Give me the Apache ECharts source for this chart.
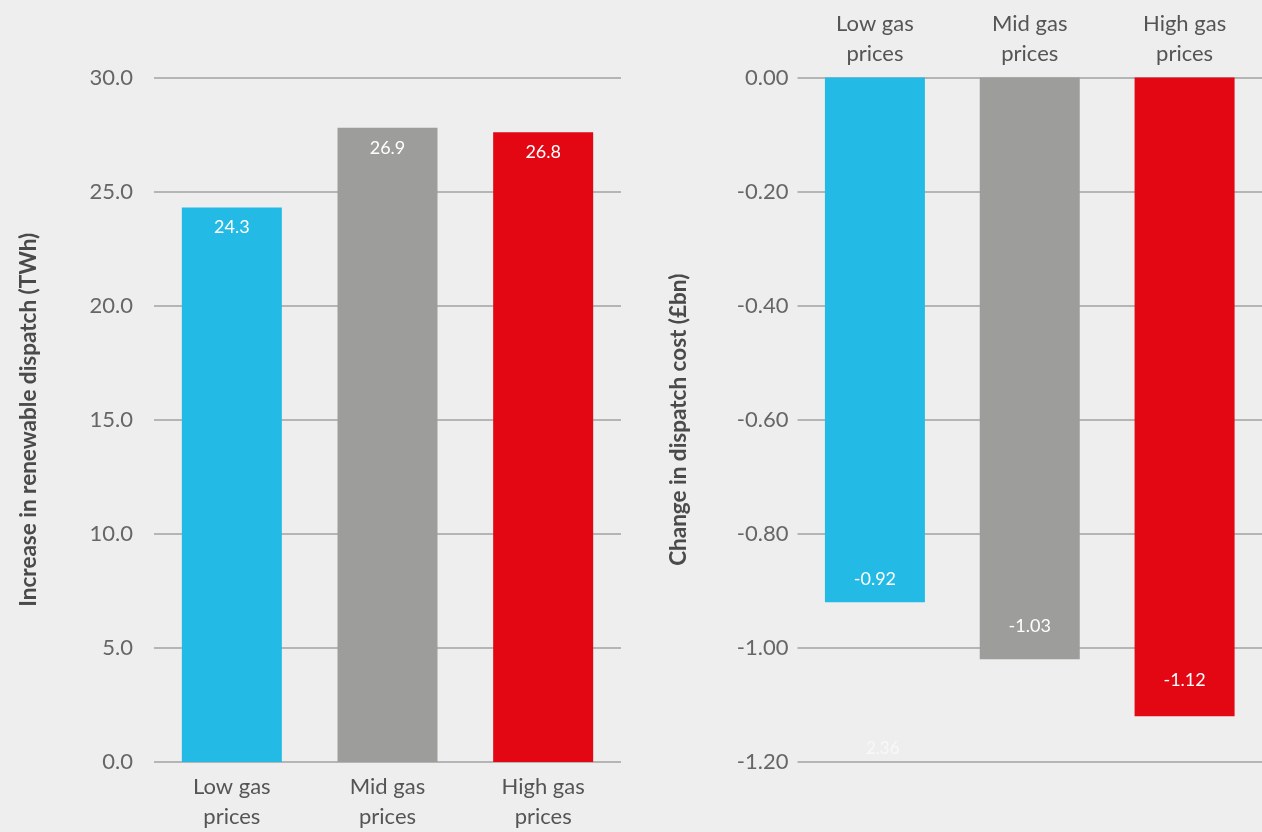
<!DOCTYPE html>
<html>
<head>
<meta charset="utf-8">
<script src="https://cdn.jsdelivr.net/npm/echarts@6/dist/echarts.min.js"></script>
<style>
html,body{margin:0;padding:0;background:#eeeeee;}
#c{width:1262px;height:832px;}
</style>
</head>
<body>
<div id="c"></div>
<script>
// ---- data ----
const categories = ['Low gas\nprices', 'Mid gas\nprices', 'High gas\nprices'];
const renewableValues = [24.3, 27.8, 27.6];          // bar heights as drawn
const renewableLabels = ['24.3', '26.9', '26.8'];    // printed labels
const costValues = [-0.92, -1.02, -1.12];
const costLabels = ['-0.92', '-1.03', '-1.12'];
const leftTicks = { min: 0, max: 30, interval: 5 };
const rightTicks = { min: -1.2, max: 0, interval: 0.2 };
const strayLabel = '2.36';

// ---- style ----
const barColors = ['#23bbe5', '#9d9d9b', '#e30613'];
const rightLabelDist = [14, 24, 27];
const FONT = 'Lato';

const chart = echarts.init(document.getElementById('c'), null, {renderer: 'canvas'});

const gridLine = {show: true, lineStyle: {color: '#b5b5b5', width: 2}};

const option = {
  backgroundColor: '#eeeeee',
  animation: false,
  textStyle: {fontFamily: FONT},
  grid: [
    {left: 154, right: 641, top: 77.5, bottom: 70},
    {left: 797.5, right: -1.5, top: 77.5, bottom: 70}
  ],
  xAxis: [
    {
      gridIndex: 0, type: 'category', data: categories, position: 'bottom',
      axisLine: {show: false}, axisTick: {show: false},
      axisLabel: {color: '#555', fontSize: 22, lineHeight: 30, margin: 10, fontFamily: FONT}
    },
    {
      gridIndex: 1, type: 'category', data: categories, position: 'top',
      axisLine: {show: false}, axisTick: {show: false},
      axisLabel: {color: '#555', fontSize: 22, lineHeight: 30, margin: 9, fontFamily: FONT}
    }
  ],
  yAxis: [
    {
      gridIndex: 0, type: 'value', min: leftTicks.min, max: leftTicks.max, interval: leftTicks.interval,
      axisLine: {show: false}, axisTick: {show: false},
      splitLine: gridLine,
      axisLabel: {color: '#666', fontSize: 22, margin: 21, formatter: v => v.toFixed(1), fontFamily: FONT},
      name: 'Increase in renewable dispatch (TWh)', nameLocation: 'middle', nameGap: 114,
      nameTextStyle: {color: '#4a4a4a', fontSize: 22.5, fontWeight: 'bold', fontFamily: FONT}
    },
    {
      gridIndex: 1, type: 'value', min: rightTicks.min, max: rightTicks.max, interval: rightTicks.interval,
      axisLine: {show: false}, axisTick: {show: false},
      splitLine: gridLine,
      axisLabel: {color: '#666', fontSize: 22, margin: 9, formatter: v => v.toFixed(2), fontFamily: FONT},
      name: 'Change in dispatch cost (£bn)', nameLocation: 'middle', nameGap: 107,
      nameTextStyle: {color: '#4a4a4a', fontSize: 22.5, fontWeight: 'bold', fontFamily: FONT}
    }
  ],
  series: [
    {
      type: 'bar', xAxisIndex: 0, yAxisIndex: 0, barWidth: 100,
      data: renewableValues.map((v, i) => ({value: v, itemStyle: {color: barColors[i]}})),
      label: {
        show: true, position: 'insideTop', distance: 11, color: '#fff', fontSize: 18, fontFamily: FONT,
        formatter: p => renewableLabels[p.dataIndex]
      }
    },
    {
      type: 'bar', xAxisIndex: 1, yAxisIndex: 1, barWidth: 100,
      data: costValues.map((v, i) => ({
        value: v, itemStyle: {color: barColors[i]},
        label: {distance: rightLabelDist[i]}
      })),
      label: {
        show: true, position: 'insideBottom', color: '#fff', fontSize: 18, fontFamily: FONT,
        formatter: p => costLabels[p.dataIndex]
      }
    }
  ],
  graphic: [
    {type: 'text', left: 866, top: 740, style: {text: strayLabel, fill: '#f8f8f8', fontSize: 17, fontFamily: FONT}}
  ]
};
chart.setOption(option);
</script>
</body>
</html>
